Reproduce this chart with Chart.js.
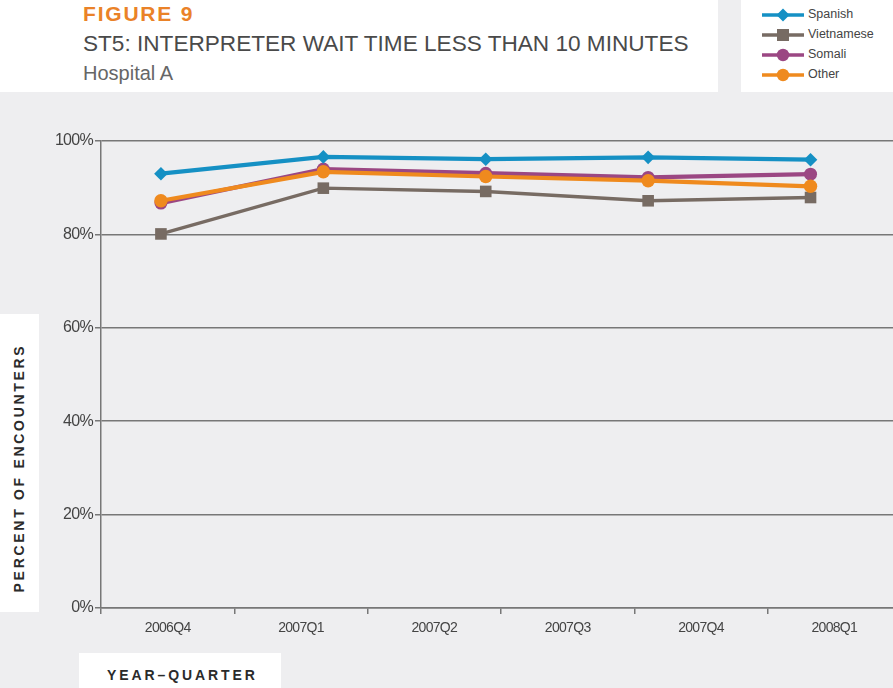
<!DOCTYPE html>
<html><head><meta charset="utf-8">
<script src="https://cdn.jsdelivr.net/npm/chart.js@4.4.1/dist/chart.umd.min.js"></script>
<style>
html,body{margin:0;padding:0;overflow:hidden;}
body{width:893px;height:688px;background:#eeeef0;position:relative;font-family:"Liberation Sans",Arial,sans-serif;}
.box{position:absolute;background:#fff;}
#titlebox{left:0;top:0;width:718px;height:92px;}
#legendbox{left:741px;top:0;width:152px;height:92px;}
#ybox{left:0;top:314px;width:39px;height:298px;}
#xbox{left:79px;top:653px;width:202px;height:35px;}
#fig{position:absolute;left:83px;top:2px;font:bold 21px "Liberation Sans",Arial;color:#ea8228;letter-spacing:1.8px;white-space:nowrap;}
#title{position:absolute;left:83px;top:31px;font-size:22.6px;color:#4a4a4a;white-space:nowrap;}
#sub{position:absolute;left:83px;top:62px;font-size:20px;color:#666;white-space:nowrap;}
#ytitle{position:absolute;left:19px;top:468px;transform:translate(-50%,-50%) rotate(-90deg);font:bold 14px "Liberation Sans",Arial;letter-spacing:2.7px;white-space:nowrap;color:#2b2b2b;}
#xtitle{position:absolute;left:107px;top:667px;font:bold 14px "Liberation Sans",Arial;letter-spacing:2.9px;color:#2b2b2b;white-space:nowrap;}
#wrap{position:absolute;left:0;top:0;width:893px;height:688px;overflow:hidden;}
#c{width:901px;height:688px;display:block;}
.lrow{position:absolute;left:762px;height:14px;width:130px;}
.lrow svg{position:absolute;left:0;top:0;}
.lrow span{position:absolute;left:46px;top:-1px;font-size:12.5px;color:#444;line-height:14px;white-space:nowrap;}
</style></head>
<body>
<div class="box" id="titlebox"></div>
<div class="box" id="legendbox"></div>
<div class="box" id="ybox"></div>
<div class="box" id="xbox"></div>
<div id="fig">FIGURE 9</div>
<div id="title">ST5: INTERPRETER WAIT TIME LESS THAN 10 MINUTES</div>
<div id="sub">Hospital A</div>
<div id="ytitle">PERCENT OF ENCOUNTERS</div>
<div id="xtitle">YEAR–QUARTER</div>
<div id="legend"></div>
<div id="wrap"><canvas id="c" width="901" height="688"></canvas></div>
<script>
// ---- data ----
const categories = ['2006Q4','2007Q1','2007Q2','2007Q3','2007Q4','2008Q1'];
const seriesNames = ['Spanish','Vietnamese','Somali','Other'];
const spanish    = [93.0, 96.6, 96.1, 96.5, 96.0];
const vietnamese = [80.1, 89.9, 89.2, 87.2, 87.9];
const somali     = [86.7, 94.0, 93.1, 92.2, 92.9];
const other      = [87.2, 93.4, 92.4, 91.5, 90.3];
const yTicks = [0, 20, 40, 60, 80, 100];

const colors = {Spanish:'#1590c4', Vietnamese:'#776b63', Somali:'#9b4783', Other:'#ef8a1e'};
const styles = {Spanish:'rectRot', Vietnamese:'rect', Somali:'circle', Other:'circle'};
const radii  = {Spanish:6.8, Vietnamese:8.2, Somali:6.5, Other:6.7};
const widths = {Spanish:4.2, Vietnamese:3.4, Somali:4.2, Other:4.2};
const orders = {Spanish:0, Vietnamese:3, Somali:2, Other:1};
const values = {Spanish:spanish, Vietnamese:vietnamese, Somali:somali, Other:other};

// ---- legend (HTML) ----
const legendTops = [8, 28, 48, 68];
const leg = document.getElementById('legend');
seriesNames.forEach((n,i)=>{
  const c = colors[n];
  let mk;
  if (styles[n]==='rectRot') mk = `<polygon points="21,0.5 27.5,7 21,13.5 14.5,7" fill="${c}"/>`;
  else if (styles[n]==='rect') mk = `<rect x="15" y="1" width="12" height="12" fill="${c}"/>`;
  else mk = `<circle cx="21" cy="7" r="6.2" fill="${c}"/>`;
  const d = document.createElement('div');
  d.className='lrow'; d.style.top = legendTops[i]+'px';
  d.innerHTML = `<svg width="42" height="14"><line x1="0" y1="7" x2="42" y2="7" stroke="${c}" stroke-width="3.3"/>${mk}</svg><span>${n}</span>`;
  leg.appendChild(d);
});

// ---- chart ----
const gridColor = '#777777';
const yFont = {family:'"Liberation Sans", Arial, sans-serif', size:16};
const xFont = {family:'"Liberation Sans", Arial, sans-serif', size:14};
const tightText = {id:'tightText', beforeDraw(chart){ try{ chart.ctx.letterSpacing='-0.7px'; }catch(e){} }};
const noPad = s=>{ s.paddingLeft=0; s.paddingRight=0; };
new Chart(document.getElementById('c'), {
  type:'line',
  plugins:[tightText],
  data:{
    datasets: seriesNames.map(n=>({
      label:n,
      data: values[n].map((v,i)=>({x:i, y:v})),
      xAxisID:'xd', yAxisID:'y',
      borderColor:colors[n], backgroundColor:colors[n],
      pointBackgroundColor:colors[n], pointBorderColor:colors[n],
      borderWidth:widths[n], pointStyle:styles[n], pointRadius:radii[n],
      pointBorderWidth:0, tension:0, fill:false, order:orders[n]
    }))
  },
  options:{
    responsive:false, animation:false, devicePixelRatio:1,
    layout:{autoPadding:false, padding:{left:0,right:0,top:141,bottom:40}},
    plugins:{legend:{display:false}, tooltip:{enabled:false}},
    scales:{
      x:{type:'category', labels:categories, position:'bottom', offset:true,
         grid:{offset:true, drawOnChartArea:false, drawTicks:true, tickLength:6, color:gridColor, lineWidth:1.5},
         border:{display:true, color:gridColor, width:1.5},
         ticks:{color:'#444', font:xFont, padding:6, maxRotation:0, autoSkip:false},
         afterFit:s=>{s.height=40; noPad(s);}},
      xd:{type:'linear', display:false, min:-0.369, max:4.557, ticks:{display:false},
         afterFit:s=>{s.height=0; noPad(s);}},
      y:{min:0, max:100, position:'left',
         afterBuildTicks:s=>{s.ticks = yTicks.map(v=>({value:v}));},
         ticks:{color:'#444', font:yFont, padding:2, callback:v=>v+'%'},
         grid:{color:gridColor, lineWidth:1.5, tickLength:6},
         border:{display:true, color:gridColor, width:1.5},
         afterFit:s=>{s.width=101;}}
    }
  }
});
</script>
</body></html>
